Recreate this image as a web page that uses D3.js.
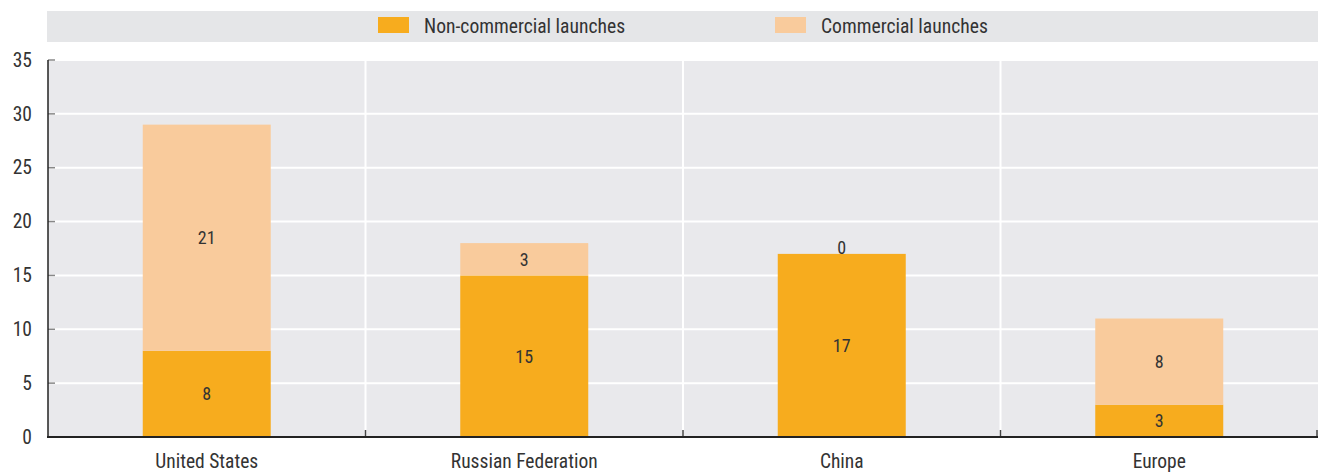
<!DOCTYPE html>
<html><head><meta charset="utf-8">
<script src="https://cdn.jsdelivr.net/npm/d3@7"></script>
<style>
body{margin:0;background:#fff;}
svg{display:block;}
text{font-family:"Liberation Sans Narrow","Arial Narrow","Roboto Condensed","DejaVu Sans Condensed",sans-serif;fill:#333;}
</style></head><body>
<svg id="c" width="1323" height="473"></svg>
<script>
const categories = ["United States","Russian Federation","China","Europe"];
const nonCommercial = [8,15,17,3];
const commercial = [21,3,0,8];
const seriesNames = ["Non-commercial launches","Commercial launches"];
const colors = ["#f7ac1e","#f9cb9c"];
const yTicks = [0,5,10,15,20,25,30,35];

const svg = d3.select("#c");
const L = 48, R = 1318, T = 60, B = 437;

const x = d3.scaleBand().domain(categories).range([L,R]).paddingInner(0).paddingOuter(0);
const y = d3.scaleLinear().domain([0,35]).range([B,T]);
const barW = 128;

// legend band
svg.append("rect").attr("x",47).attr("y",11).attr("width",R-47).attr("height",31).attr("fill","#e5e6e8");
const legX = [378,775];
seriesNames.forEach((n,i)=>{
  svg.append("rect").attr("x",legX[i]).attr("y",17).attr("width",31).attr("height",16).attr("fill",colors[i]);
  svg.append("text").attr("x",legX[i]+46).attr("y",26).attr("dominant-baseline","central")
    .attr("font-size",19.6).text(n);
});

// plot background
svg.append("rect").attr("x",L).attr("y",T).attr("width",R-L).attr("height",B-T).attr("fill","#e9e9ec");

// horizontal gridlines
svg.append("g").selectAll("line").data(yTicks.filter(d=>d>0)).join("line")
  .attr("x1",L).attr("x2",R).attr("y1",d=>y(d)).attr("y2",d=>y(d))
  .attr("stroke","#fff").attr("stroke-width",2);
// vertical gridlines at category boundaries
const bounds = categories.slice(1).map(c=>x(c));
svg.append("g").selectAll("line").data(bounds).join("line")
  .attr("x1",d=>d).attr("x2",d=>d).attr("y1",T).attr("y2",B)
  .attr("stroke","#fff").attr("stroke-width",2);

// stacked bars
const data = categories.map((c,i)=>({c, v:[nonCommercial[i], commercial[i]]}));
data.forEach(d=>{
  let base = 0;
  d.v.forEach((v,j)=>{
    const cx = x(d.c)+x.bandwidth()/2;
    svg.append("rect").attr("x",cx-barW/2).attr("width",barW)
      .attr("y",y(base+v)).attr("height",y(base)-y(base+v)).attr("fill",colors[j]);
    const mid = v===0 ? y(base)-6 : (y(base)+y(base+v))/2;
    svg.append("text").attr("x",cx).attr("y",mid).attr("text-anchor","middle")
      .attr("dominant-baseline","central").attr("font-size",18).text(v);
    base += v;
  });
});

// y axis
const yAxis = d3.axisLeft(y).tickValues(yTicks).tickSize(0).tickPadding(16);
const yg = svg.append("g").attr("transform",`translate(${L},0)`).call(yAxis);
yg.select(".domain").remove();
yg.selectAll("text").attr("font-size",19.5).attr("fill","#333");
svg.append("g").selectAll("line").data(yTicks).join("line")
  .attr("x1",L).attr("x2",L+7).attr("y1",d=>y(d)).attr("y2",d=>y(d))
  .attr("stroke","#888").attr("stroke-width",1.5);
svg.append("line").attr("x1",L).attr("x2",L).attr("y1",T).attr("y2",B)
  .attr("stroke","#222").attr("stroke-width",1.5);

// x axis
const xAxis = d3.axisBottom(x).tickSize(0).tickPadding(17);
const xg = svg.append("g").attr("transform",`translate(0,${B})`).call(xAxis);
xg.select(".domain").remove();
xg.selectAll("text").attr("font-size",19.5).attr("fill","#333");
svg.append("g").selectAll("line").data(bounds.concat([R-1])).join("line")
  .attr("x1",d=>d).attr("x2",d=>d).attr("y1",B-7).attr("y2",B)
  .attr("stroke","#444").attr("stroke-width",1.5);
svg.append("line").attr("x1",L-1).attr("x2",R).attr("y1",B).attr("y2",B)
  .attr("stroke","#222").attr("stroke-width",2);
</script>
</body></html>
